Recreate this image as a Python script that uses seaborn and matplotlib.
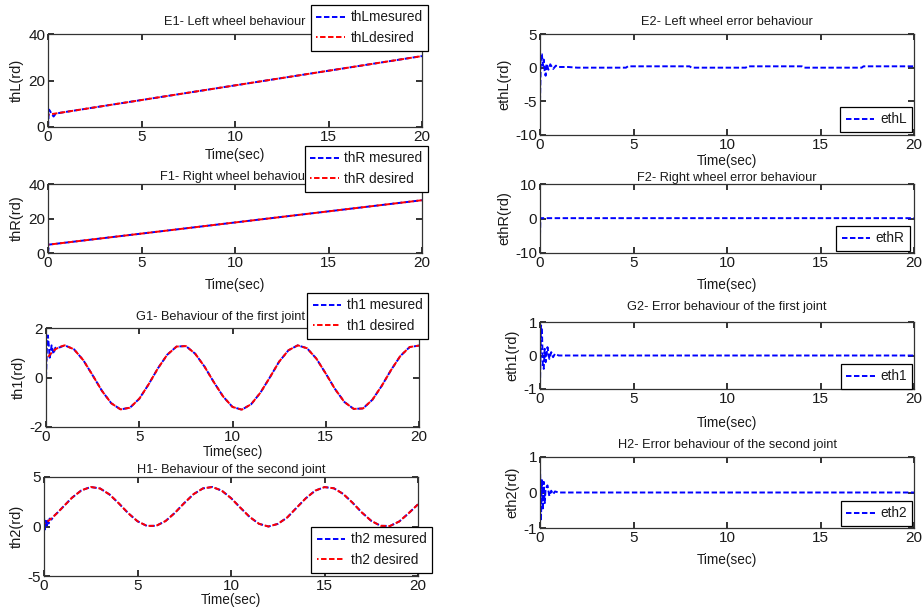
import matplotlib
matplotlib.use('Agg')
import seaborn as sns
import matplotlib.pyplot as plt

# time grid (sec) for the joints, denser during the start-up transient
t = [0, 0.05, 0.1, 0.15, 0.2, 0.25, 0.3, 0.4, 0.5, 0.75, 1.0, 1.5, 2.0, 2.5, 3.0, 3.5,
     4.0, 4.5, 5.0, 5.5, 6.0, 6.5, 7.0, 7.5, 8.0, 8.5, 9.0, 9.5, 10.0, 10.5, 11.0, 11.5,
     12.0, 12.5, 13.0, 13.5, 14.0, 14.5, 15.0, 15.5, 16.0, 16.5, 17.0, 17.5, 18.0, 18.5,
     19.0, 19.5, 20.0]

th1_desired = [0.70, 0.76, 0.81, 0.86, 0.91, 0.96, 1.00, 1.07, 1.14, 1.24, 1.30,
               1.14, 0.70, 0.09, -0.54, -1.04, -1.29, -1.22, -0.86, -0.28, 0.37, 0.92,
               1.25, 1.27, 0.96, 0.44, -0.19, -0.77, -1.19, -1.30, -1.08, -0.61, 0.00,
               0.64, 1.10, 1.30, 1.18, 0.76, 0.16, -0.47, -0.99, -1.27, -1.25, -0.90,
               -0.34, 0.30, 0.87, 1.23, 1.29]
th1_start = [0.00, 1.20, 1.70, 1.30, 0.80, 1.00, 1.30, 0.95, 1.20, 1.22, 1.30]
th1_measured = th1_start + th1_desired[11:]

th2_desired = [0.29, 0.34, 0.40, 0.46, 0.52, 0.59, 0.67, 0.82, 0.99, 1.45, 1.94,
               2.91, 3.65, 3.99, 3.84, 3.24, 2.34, 1.35, 0.53, 0.06, 0.07, 0.55, 1.38,
               2.37, 3.27, 3.85, 3.99, 3.63, 2.87, 1.90, 0.96, 0.27, 0.00, 0.26, 0.90,
               1.88, 2.85, 3.62, 3.98, 3.86, 3.29, 2.40, 1.41, 0.57, 0.07, 0.05, 0.51,
               1.34, 2.24]
th2_start = [0.90, -0.30, 0.70, 0.10, 0.60, 0.30, 0.80, 0.70, 1.00, 1.45, 1.94]
th2_measured = th2_start + th2_desired[11:]

# wheels
t_wheel = [0, 0.05, 0.1, 0.2, 0.3, 0.4, 0.5, 1, 5, 10, 15, 20]
thL_desired = [5.3, 5.36, 5.43, 5.55, 5.68, 5.8, 5.93, 6.55, 11.6, 17.9, 24.2, 30.5]
thL_measured = [0.0, 7.5, 7.0, 5.5, 4.5, 5.6, 5.9, 6.55, 11.6, 17.9, 24.2, 30.5]
thR_desired = [4.8, 4.86, 4.93, 5.06, 5.19, 5.32, 5.45, 6.09, 11.25, 17.7, 24.15, 30.6]
thR_measured = [0.0, 4.86, 4.93, 5.06, 5.19, 5.32, 5.45, 6.09, 11.25, 17.7, 24.15, 30.6]

# errors
t_ethL = [0, 0.05, 0.1, 0.15, 0.2, 0.25, 0.3, 0.35, 0.45, 0.55, 0.7, 0.85, 1.0, 1.5,
          2.0, 4.6, 4.7, 8.0, 8.1, 11.0, 11.1, 14.0, 14.1, 17.2, 17.3, 20.0]
ethL = [-5.0, 2.0, 2.0, 0.3, 1.2, -0.5, -1.2, 0.6, -0.3, 0.5, -0.2, 0.3, 0.1, 0.1,
        0.0, 0.0, 0.2, 0.2, 0.0, 0.0, 0.2, 0.2, 0.0, 0.0, 0.2, 0.2]
t_ethR = [0, 0.02, 20]
ethR = [-5.0, 0.1, 0.1]
t_err = [0, 0.05, 0.1, 0.15, 0.2, 0.25, 0.3, 0.4, 0.5, 0.6, 0.7, 0.8, 1.0, 20.0]
eth1 = [-0.9, 0.9, 0.85, -0.3, -0.4, 0.2, -0.2, 0.25, -0.1, 0.1, -0.05, 0.05, 0.0, 0.0]
eth2 = [0.75, -0.8, 0.35, -0.5, 0.3, -0.3, 0.1, 0.2, -0.1, 0.05, -0.05, 0.03, 0.0, 0.0]

sns.set_theme(style='ticks')
plt.rcParams.update({
    'xtick.direction': 'in', 'ytick.direction': 'in',
    'xtick.top': True, 'ytick.right': True,
    'xtick.major.size': 4, 'ytick.major.size': 4,
    'xtick.major.pad': 2, 'ytick.major.pad': 2,
    'axes.unicode_minus': False,
    'axes.edgecolor': '#333333', 'axes.linewidth': 0.9,
    'text.color': '#1a1a1a', 'axes.labelcolor': '#1a1a1a',
    'xtick.color': '#1a1a1a', 'ytick.color': '#1a1a1a',
})
plt.rcParams['font.family'] = ['Liberation Sans Narrow', 'Liberation Sans', 'DejaVu Sans']

W, H = 922, 611
fig = plt.figure(figsize=(W / 100, H / 100), dpi=100)

DASH = (0, (2.8, 1.3))
DASH_OFF = (2.0, (2.8, 1.3))


def box(x0, x1, y0, y1):
    return [x0 / W, 1 - y1 / H, (x1 - x0) / W, (y1 - y0) / H]


def panel(pos, title, ylabel, ylim, yticks, title_pad, xpad, title_x=None):
    ax = fig.add_axes(box(*pos))
    ax.set_xlim(0, 20)
    ax.set_ylim(*ylim)
    ax.set_xticks([0, 5, 10, 15, 20])
    ax.set_yticks(yticks)
    ax.tick_params(labelsize=11)
    ax.set_title(title, fontsize=9.2, pad=title_pad)
    if title_x is not None:
        ax.title.set_x((title_x - pos[0]) / (pos[1] - pos[0]))
    ax.set_xlabel('Time(sec)', fontsize=9.8, labelpad=xpad)
    ax.set_ylabel(ylabel, fontsize=10.5, labelpad=3)
    return ax


def place_legend(ax, leg_xy):
    ax.legend(loc='upper right', bbox_to_anchor=(leg_xy[0] / W, 1 - leg_xy[1] / H),
              bbox_transform=fig.transFigure, borderaxespad=0, fancybox=False,
              edgecolor='black', framealpha=1, fontsize=9.8, handlelength=2.1,
              borderpad=0.4, labelspacing=0.5, handletextpad=0.4)
    ax.get_legend().get_frame().set_linewidth(0.9)


def pair(ax, x, meas, des, lab_m, lab_d, leg_xy):
    sns.lineplot(x=x, y=meas, ax=ax, color='blue', linestyle=DASH, linewidth=1.4, label=lab_m)
    sns.lineplot(x=x, y=des, ax=ax, color='red', linestyle=DASH_OFF, linewidth=1.4, label=lab_d)
    place_legend(ax, leg_xy)


def single(ax, x, y, lab, leg_xy):
    sns.lineplot(x=x, y=y, ax=ax, color='blue', linestyle=DASH, linewidth=1.4, label=lab)
    place_legend(ax, leg_xy)


# left column
ax = panel((48, 422, 34, 127), 'E1- Left wheel behaviour', 'thL(rd)', (0, 40), [0, 20, 40], 6.5, 3)
pair(ax, t_wheel, thL_measured, thL_desired, 'thLmesured', 'thLdesired', (428, 5))

ax = panel((48, 422, 184, 253), 'F1- Right wheel behaviour', 'thR(rd)', (0, 40), [0, 20, 40], 3, 6)
pair(ax, t_wheel, thR_measured, thR_desired, 'thR mesured', 'thR desired', (428, 146))

ax = panel((46, 419, 328, 427), 'G1- Behaviour of the first joint', 'th1(rd)', (-2, 2), [-2, 0, 2], 6, 1,
           title_x=220)
pair(ax, t, th1_measured, th1_desired, 'th1 mesured', 'th1 desired', (428, 293))

ax = panel((44, 418, 477, 576), 'H1- Behaviour of the second joint', 'th2(rd)', (-5, 5), [-5, 0, 5], 3, 0.5)
pair(ax, t, th2_measured, th2_desired, 'th2 mesured', 'th2 desired', (432, 527))

# right column
ax = panel((540, 914, 34, 135), 'E2- Left wheel error behaviour', 'ethL(rd)', (-10, 5), [-10, -5, 0, 5], 6.5, 1.5)
single(ax, t_ethL, ethL, 'ethL', (912, 107))

ax = panel((540, 914, 184, 253), 'F2- Right wheel error behaviour', 'ethR(rd)', (-10, 10), [-10, 0, 10], 2, 6)
single(ax, t_ethR, ethR, 'ethR', (910, 226))

ax = panel((540, 914, 322, 389), 'G2- Error behaviour of the first joint', 'eth1(rd)', (-1, 1), [-1, 0, 1], 8.5, 7)
single(ax, t_err, eth1, 'eth1', (912, 364))

ax = panel((540, 914, 457, 528), 'H2- Error behaviour of the second joint', 'eth2(rd)', (-1, 1), [-1, 0, 1], 6.5, 6)
single(ax, t_err, eth2, 'eth2', (912, 501))

fig.savefig('out.png', dpi=100)
